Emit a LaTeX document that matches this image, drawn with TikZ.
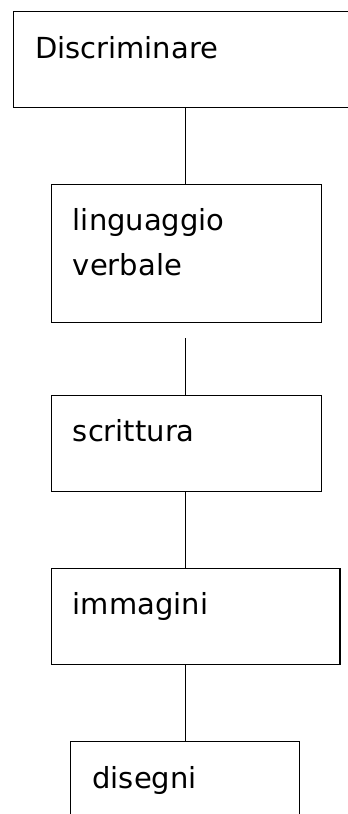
\documentclass[tikz,border=0pt]{standalone}
\usepackage{fontspec}
\setmainfont{DejaVu Sans}
\begin{document}
\begin{tikzpicture}[x=1pt,y=-1pt,
  box/.style={draw,line width=1.3pt,rectangle,inner sep=0pt,anchor=north west},
  lbl/.style={anchor=base west,inner sep=0pt,font=\fontsize{29}{45}\selectfont},
  link/.style={line width=1.3pt}]
\useasboundingbox (0,0) rectangle (348,814);
\clip (0,0) rectangle (348,814);
\node[box,minimum width=347pt,minimum height=96pt] (b1) at (13,11) {};
\node[box,minimum width=270pt,minimum height=138pt] (b2) at (50.7,183.5) {};
\node[box,minimum width=270pt,minimum height=96pt] (b3) at (50.7,395) {};
\node[box,minimum width=288.6pt,minimum height=96pt] (b4) at (50.7,568) {};
\node[box,minimum width=228.7pt,minimum height=100pt] (b5) at (70,741) {};
\node[lbl] (t1) at (35,58) {Discriminare};
\node[lbl,align=left] (t2) at (72.7,275) {linguaggio\\verbale};
\node[lbl] (t3) at (72.7,441.7) {scrittura};
\node[lbl] (t4) at (72.7,614) {immagini};
\node[lbl] (t5) at (92.3,788) {disegni};
\draw[link] (b1.south -| 185.7,0) -- (b2.north -| 185.7,0);
\draw[link] ([yshift=-15.5pt]b2.south -| 185.7,0) -- (b3.north -| 185.7,0);
\draw[link] (b3.south -| 185.7,0) -- (b4.north -| 185.7,0);
\draw[link] (b4.south -| 185.7,0) -- (b5.north -| 185.7,0);
\end{tikzpicture}
\end{document}
